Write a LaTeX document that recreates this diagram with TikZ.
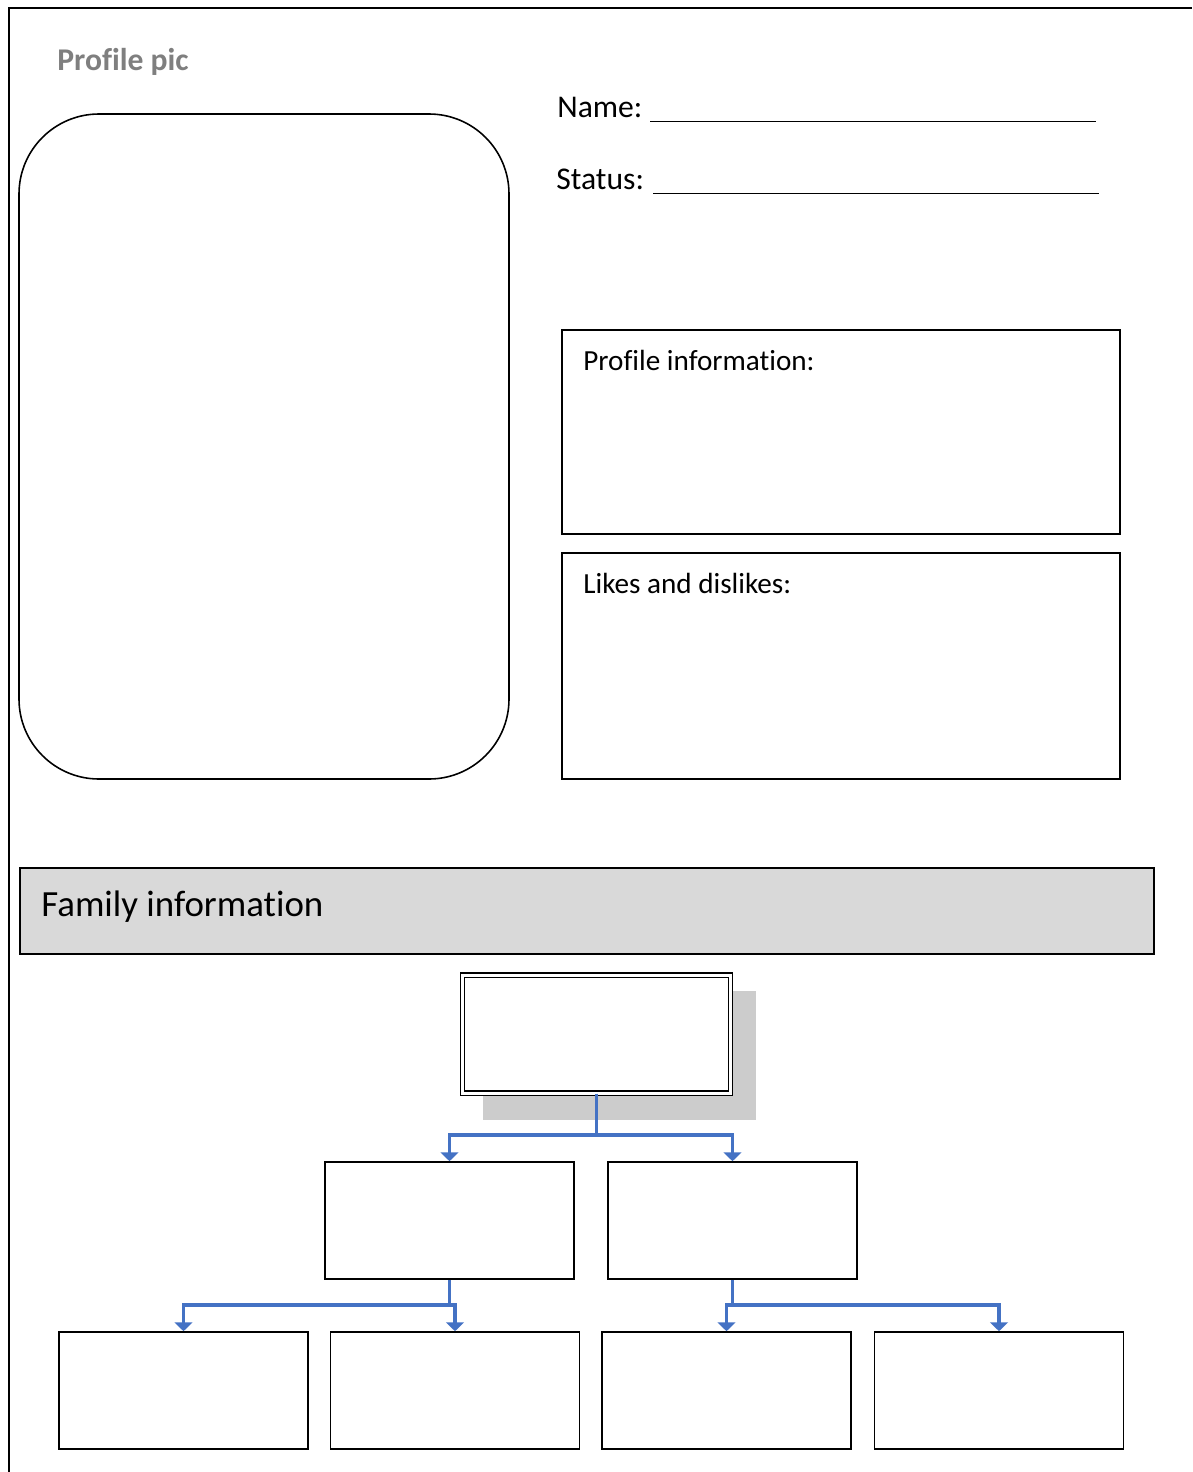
\documentclass[tikz,border=0pt]{standalone}
\usepackage{fontspec}
\setmainfont{Carlito}[Ligatures=NoCommon]
\usetikzlibrary{arrows.meta}
\definecolor{linkblue}{HTML}{4472C4}
\definecolor{bargray}{HTML}{D9D9D9}
\definecolor{shadegray}{HTML}{CCCCCC}
\definecolor{titlegray}{HTML}{7F7F7F}
\newcommand{\nolig}{\kern0pt}

\begin{document}
\begin{tikzpicture}[
        box/.style={draw, line width=0.9pt, inner sep=0pt},
        member/.style={box, minimum width=4.98cm, minimum height=2.34cm},
        infobox/.style={box, minimum width=11.16cm},
        link/.style={draw=linkblue, line width=1.9pt, -{Triangle[width=10pt,length=5pt]}},
        txt/.style={anchor=base west, inner sep=0pt, font=\fontsize{16.6}{20}\selectfont},
        blank/.style={line width=1.1pt}
    ]
    \useasboundingbox (0,0) rectangle (23.84,-29.44);

    \draw[line width=1pt] (0.18,-29.44) -- (0.18,-0.16) -- (23.84,-0.16);

    \node[txt, text=titlegray, font=\bfseries\fontsize{18}{22}\selectfont] (pictitle) at (1.14,-1.40) {Profile pic};
    \node[box, rounded corners=1.6cm, minimum width=9.8cm, minimum height=13.3cm] (pic) at (5.28,-8.93) {};

    \node[txt, font=\fontsize{18}{22}\selectfont] (name) at (11.14,-2.34) {Name:};
    \draw[blank] (13.00,-2.43) -- (21.92,-2.43);
    \node[txt, font=\fontsize{18}{22}\selectfont] (status) at (11.12,-3.78) {Status:};
    \draw[blank] (13.06,-3.87) -- (21.98,-3.87);

    \node[infobox, minimum height=4.08cm] (info) at (16.82,-8.64) {};
    \node[txt] (infotitle) at (11.66,-7.40) {Profile informat\nolig ion:};
    \node[infobox, minimum height=4.52cm] (likes) at (16.82,-13.32) {};
    \node[txt] (likestitle) at (11.66,-11.86) {Likes and dislikes:};

    \node[box, fill=bargray, minimum width=22.68cm, minimum height=1.72cm] (family) at (11.74,-18.22) {};
    \node[txt, font=\fontsize{21}{25}\selectfont] (familytitle) at (0.82,-18.32) {Family informat\nolig ion};

    \fill[shadegray] (9.66,-19.82) rectangle (15.12,-22.40);
    \node[box, line width=0.8pt, double, double distance=1.7pt, fill=white,
          minimum width=5.36cm, minimum height=2.36cm] (top) at (11.93,-20.68) {};

    \node[member] (c1) at (8.99,-24.41) {};
    \node[member] (c2) at (14.65,-24.41) {};

    \node[member] (g1) at (3.67,-27.81) {};
    \node[member] (g2) at (9.10,-27.81) {};
    \node[member] (g3) at (14.53,-27.81) {};
    \node[member] (g4) at (19.98,-27.81) {};

    \coordinate (j0) at (11.93,-22.70);
    \draw[link] (top.south) -- (j0) -| (c1.north);
    \draw[link] (j0) -| (c2.north);

    \coordinate (j1) at (8.99,-26.10);
    \draw[link] (c1.south) -- (j1) -| (g1.north);
    \draw[link] (j1) -| (g2.north);

    \coordinate (j2) at (14.65,-26.10);
    \draw[link] (c2.south) -- (j2) -| (g3.north);
    \draw[link] (j2) -| (g4.north);
\end{tikzpicture}
\end{document}
